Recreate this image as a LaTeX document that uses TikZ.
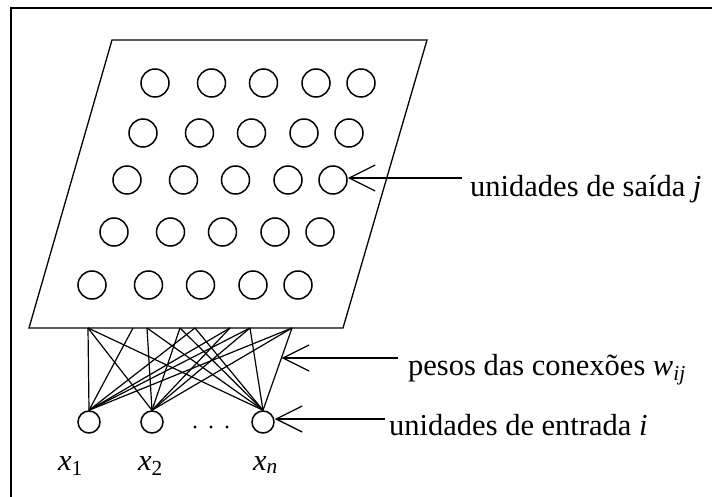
\documentclass[tikz,border=0pt]{standalone}
\usepackage{fontspec}
\setmainfont{Liberation Serif}
\usetikzlibrary{arrows.meta,calc}
\begin{document}
\begin{tikzpicture}[x=1pt,y=-1pt,
  ln/.style={line width=1.3pt},
  unit/.style={circle,draw,line width=1.5pt,minimum width=28pt,minimum height=28pt,inner sep=0pt},
  inunit/.style={circle,draw,line width=1.5pt,minimum size=22pt,inner sep=0pt},
  lbl/.style={font=\fontsize{30.5}{36}\selectfont,inner sep=0pt,anchor=base west},
  arr/.style={line width=1.3pt,-{Straight Barb[length=26pt,width=26pt,line width=1.3pt]}},
  wire/.style={line width=1.2pt}]
\useasboundingbox (0,0) rectangle (712,497);
% frame
\draw[line width=2.4pt] (11,497) -- (11,8) -- (712,8);
% output plane
\draw[ln] (112,40) coordinate (p1) -- (427,40) coordinate (p2) -- (343,328) coordinate (p3) -- (29,328) coordinate (p4) -- cycle;
% output units
\foreach \r/\y/\bx in {1/83/155, 2/133/143, 3/180/127, 4/232/114, 5/285/92}{
  \foreach \c/\dx in {1/0, 2/56.5, 3/108.5, 4/161, 5/206}{
    \node[unit] (o\r\c) at (\bx+\dx,\y) {};
  }
}
% input units
\node[inunit] (x1) at (89,422) {};
\node[inunit] (x2) at (152,422) {};
\node[inunit] (xn) at (263,422) {};
\fill (195,427) circle (1.6pt) (211,427) circle (1.6pt) (227,427) circle (1.6pt);
% connection points on the plane
\coordinate (t1) at (88,328);
\coordinate (t2) at (133,328);
\coordinate (t3) at (147,328);
\coordinate (t4) at (180,328);
\coordinate (t5) at (195,328);
\coordinate (t6) at (230,328);
\coordinate (t7) at (250,328);
\coordinate (t8) at (292,328);
\foreach \t in {t1,t2,t5,t6,t7,t8}{\draw[wire] (x1.north) -- (\t);}
\foreach \t in {t1,t3,t4,t6,t7,t8}{\draw[wire] (x2.north) -- (\t);}
\foreach \t in {t1,t3,t4,t5,t7,t8}{\draw[wire] (xn.north) -- (\t);}
% labels
\node[lbl] (saida) at (470,197) {unidades de saída \textit{j}};
\node[lbl] (pesos) at (408,375) {pesos das conexões \textit{w}\textsubscript{\textit{ij}}};
\node[lbl] (entrada) at (389,435) {unidades de entrada \textit{i}};
\node[lbl] (l1) at (58,470) {\textit{x}\textsubscript{1}};
\node[lbl] (l2) at (138,470) {\textit{x}\textsubscript{2}};
\node[lbl] (ln) at (253,470) {\textit{x}\textsubscript{\textit{n}}};
% pointer arrows
\coordinate (a1) at (462,178);
\coordinate (a2) at (398,358);
\coordinate (a3) at (385,419);
\coordinate (tip2) at ($(xn.north)!0.64!(t8)$);
\draw[arr] (a1) -- (a1 -| o35.east);
\draw[arr] (a2) -- (a2 -| tip2);
\draw[arr] (a3) -- (a3 -| xn.east);
\end{tikzpicture}
\end{document}
